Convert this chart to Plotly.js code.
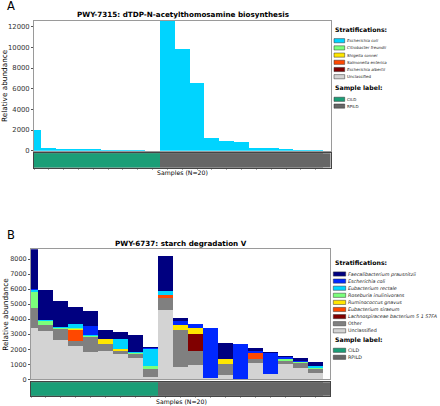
<!DOCTYPE html>
<html><head><meta charset="utf-8">
<script src="https://cdn.plot.ly/plotly-3.0.1.min.js"></script>
<style>html,body{margin:0;padding:0;background:#fff}#chart{width:440px;height:406px}</style>
</head><body><div id="chart"></div>
<script>
// ---------------- DATA ----------------
const samples = [0,1,2,3,4,5,6,7,8,9,10,11,12,13,14,15,16,17,18,19];
const sampleGroupA = ['CILD','CILD','CILD','CILD','CILD','CILD','CILD','CILD','CILD','RPILD','RPILD','RPILD','RPILD','RPILD','RPILD','RPILD','RPILD','RPILD','RPILD','RPILD'];
const sampleGroupB = ['CILD','CILD','CILD','CILD','CILD','CILD','CILD','CILD','CILD','RPILD','RPILD','RPILD','RPILD','RPILD','RPILD','RPILD','RPILD','RPILD','RPILD','RPILD'];
const groupNames = ['CILD','RPILD'];

// Panel A: PWY-7315 (legend order, top of stack first)
const speciesA = ['Escherichia coli','Citrobacter freundii','Shigella sonnei','Salmonella enterica','Escherichia albertii','Unclassified'];
const ecoliA = [2050,250,200,160,150,70,50,25,10,12550,9880,6520,1250,950,850,260,250,160,90,20];
const citrobacterA = [0,0,0,0,0,0,0,0,0,0,0,0,0,0,0,0,0,0,0,0];
const shigellaA = [0,0,0,0,0,0,0,0,0,0,0,0,0,0,0,0,0,0,0,0];
const salmonellaA = [0,0,0,0,0,0,0,0,0,0,0,0,0,0,0,0,0,0,0,0];
const albertiiA = [0,0,0,0,0,0,0,0,0,0,0,0,0,0,0,0,0,0,0,0];
const unclassifiedA = [0,0,0,0,0,0,0,0,0,0,0,0,0,0,0,0,0,0,0,0];
const yTicksA = [0,2000,4000,6000,8000,10000,12000];

// Panel B: PWY-6737 (legend order, top of stack first)
const speciesB = ['Faecalibacterium prausnitzii','Escherichia coli','Eubacterium rectale','Roseburia inulinivorans','Ruminococcus gnavus','Eubacterium siraeum','Lachnospiraceae bacterium 5 1 57FA','Other','Unclassified'];
const faecaliB   = [2625,1965,1770,1135,1000,605,490,1150,70,2360,245,0,0,1055,0,180,65,90,140,295];
const ecoliB     = [60,0,0,0,630,0,0,0,80,0,210,245,3350,0,2300,110,1400,145,75,0];
const rectaleB   = [180,70,60,250,50,0,645,25,1100,245,0,0,0,0,0,0,0,0,0,85];
const roseburiaB = [1030,300,30,80,60,0,0,65,210,0,45,0,0,0,0,0,0,100,120,120];
const ruminoB    = [0,0,0,45,0,290,140,0,0,0,320,400,0,320,0,0,0,0,0,0];
const siraeumB   = [0,0,0,725,0,0,0,0,0,210,0,0,0,0,0,400,0,0,0,0];
const lachnoB    = [0,0,0,0,0,0,0,0,0,0,0,1130,0,0,0,0,0,0,0,0];
const otherB     = [1310,360,750,360,1020,490,210,260,510,780,2425,945,0,730,0,310,0,200,335,265];
const unclassB   = [3440,3230,2620,2190,1790,1890,1680,1440,170,4605,850,945,90,280,30,1055,320,1020,720,390];
const yTicksB = [0,1000,2000,3000,4000,5000,6000,7000,8000];

// ---------------- STYLE ----------------
const W = 440, H = 406;
const X = p => p / W, Y = p => 1 - p / H;
const colA = {'Escherichia coli':'#00d4ff','Citrobacter freundii':'#7bff7b','Shigella sonnei':'#ffe600','Salmonella enterica':'#ff4800','Escherichia albertii':'#800000','Unclassified':'#d3d3d3'};
const colB = {'Faecalibacterium prausnitzii':'#000080','Escherichia coli':'#0028ff','Eubacterium rectale':'#00d4ff','Roseburia inulinivorans':'#7bff7b','Ruminococcus gnavus':'#ffe600','Eubacterium siraeum':'#ff4800','Lachnospiraceae bacterium 5 1 57FA':'#800000','Other':'#808080','Unclassified':'#d3d3d3'};
const colG = {'CILD':'#1b9e77','RPILD':'#666666'};
const FONT = 'DejaVu Sans, Verdana, sans-serif';

const seriesA = {'Unclassified':unclassifiedA,'Escherichia albertii':albertiiA,'Salmonella enterica':salmonellaA,'Shigella sonnei':shigellaA,'Citrobacter freundii':citrobacterA,'Escherichia coli':ecoliA};
const seriesB = {'Unclassified':unclassB,'Other':otherB,'Lachnospiraceae bacterium 5 1 57FA':lachnoB,'Eubacterium siraeum':siraeumB,'Ruminococcus gnavus':ruminoB,'Roseburia inulinivorans':roseburiaB,'Eubacterium rectale':rectaleB,'Escherichia coli':ecoliB,'Faecalibacterium prausnitzii':faecaliB};

const traces = [];
for (const [name, vals] of Object.entries(seriesA)) {
  traces.push({type:'bar', x:samples, y:vals, width:1, name, xaxis:'x', yaxis:'y', marker:{color:colA[name], line:{width:0}}, showlegend:false, hoverinfo:'skip'});
}
for (const [name, vals] of Object.entries(seriesB)) {
  traces.push({type:'bar', x:samples, y:vals, width:1, name, xaxis:'x3', yaxis:'y3', marker:{color:colB[name], line:{width:0}}, showlegend:false, hoverinfo:'skip'});
}
traces.push({type:'bar', x:samples, y:samples.map(()=>1), width:1, xaxis:'x2', yaxis:'y2', marker:{color:sampleGroupA.map(g=>colG[g]), line:{width:0}}, showlegend:false, hoverinfo:'skip'});
traces.push({type:'bar', x:samples, y:samples.map(()=>1), width:1, xaxis:'x4', yaxis:'y4', marker:{color:sampleGroupB.map(g=>colG[g]), line:{width:0}}, showlegend:false, hoverinfo:'skip'});

const frame = {showline:true, mirror:true, linecolor:'#9a9a9a', linewidth:1, showgrid:false, zeroline:false};
const stripFrame = {showline:true, mirror:true, linecolor:'#444', linewidth:1, showgrid:false, zeroline:false};
const domA = [X(34), X(330.5)], domB = [X(31), X(330)];

const layout = {
  width:W, height:H, margin:{l:0,r:0,t:0,b:0}, paper_bgcolor:'#fff', plot_bgcolor:'#fff',
  barmode:'stack', bargap:0, showlegend:false, font:{family:FONT, color:'#222'},
  xaxis:Object.assign({domain:domA, anchor:'y', range:[0,20], showticklabels:false, ticks:''}, frame),
  yaxis:Object.assign({domain:[Y(150.7), Y(21)], anchor:'x', range:[0,12550], tickvals:yTicksA, tickformat:'d', ticks:'outside', ticklen:2, tickcolor:'#555', tickfont:{size:6.8, color:'#333'}}, frame),
  xaxis2:Object.assign({domain:domA, anchor:'y2', range:[0,20], showticklabels:false, tickvals:samples, ticks:'outside', ticklen:1.5, tickcolor:'#aaa'}, stripFrame),
  yaxis2:Object.assign({domain:[Y(167.5), Y(153.3)], anchor:'x2', range:[0,1], showticklabels:false, ticks:''}, stripFrame),
  xaxis3:Object.assign({domain:domB, anchor:'y3', range:[0,20], showticklabels:false, ticks:''}, frame),
  yaxis3:Object.assign({domain:[Y(379.3), Y(249.3)], anchor:'x3', range:[0,8645], tickvals:yTicksB, tickformat:'d', ticks:'outside', ticklen:2, tickcolor:'#555', tickfont:{size:6.5, color:'#333'}}, frame),
  xaxis4:Object.assign({domain:domB, anchor:'y4', range:[0,20], showticklabels:false, tickvals:samples, ticks:'outside', ticklen:1.5, tickcolor:'#aaa'}, stripFrame),
  yaxis4:Object.assign({domain:[Y(395.7), Y(382.3)], anchor:'x4', range:[0,1], showticklabels:false, ticks:''}, stripFrame),
  annotations:[],
  // strip background continues the last sample group's colour to the axis end
  shapes:[
    {type:'rect', xref:'x2 domain', yref:'y2 domain', x0:0, x1:1, y0:0, y1:1, fillcolor:colG[sampleGroupA[sampleGroupA.length-1]], line:{width:0}, layer:'below'},
    {type:'rect', xref:'x4 domain', yref:'y4 domain', x0:0, x1:1, y0:0, y1:1, fillcolor:colG[sampleGroupB[sampleGroupB.length-1]], line:{width:0}, layer:'below'}
  ]
};

function txt(x, y, text, size, opts) {
  layout.annotations.push(Object.assign({xref:'paper', yref:'paper', x:X(x), y:Y(y), text, showarrow:false, xanchor:'center', yanchor:'middle', font:{family:FONT, size, color:'#000'}, borderpad:0}, opts||{}));
}
// panel letters and titles
txt(11, 6, 'A', 11.5);
txt(10.5, 234.7, 'B', 11.5);
txt(182.5, 14.7, '<b>PWY-7315: dTDP-N-acetylthomosamine biosynthesis</b>', 7.2);
txt(181, 243.3, '<b>PWY-6737: starch degradation V</b>', 7.2);
txt(5, 86, 'Relative abundance', 7.3, {textangle:-90});
txt(4.7, 314, 'Relative abundance', 7.3, {textangle:-90});
txt(182.5, 172.7, 'Samples (N=20)', 6.2);
txt(181, 401.5, 'Samples (N=20)', 6.2);

function legendBlock(x0, sw0, sw1, tx, titleY, items, itemY0, dy, fsize, colors, sampleTitleY, groupY0, groupDy) {
  txt(x0, titleY, '<b>Stratifications:</b>', 6.2, {xanchor:'left'});
  items.forEach((name, i) => {
    const y = itemY0 + i * dy;
    layout.shapes.push({type:'rect', xref:'paper', yref:'paper', x0:X(sw0), x1:X(sw1), y0:Y(y+2.1), y1:Y(y-2.1), fillcolor:colors[name], line:{color:'#333', width:0.5}});
    const plain = (name === 'Unclassified' || name === 'Other');
    txt(tx, y, plain ? name : '<i>' + name + '</i>', fsize, {xanchor:'left', font:{family:FONT, size:fsize, color:'#222'}});
  });
  txt(x0, sampleTitleY, '<b>Sample label:</b>', 6.2, {xanchor:'left'});
  groupNames.forEach((g, i) => {
    const y = groupY0 + i * groupDy;
    layout.shapes.push({type:'rect', xref:'paper', yref:'paper', x0:X(sw0), x1:X(sw1), y0:Y(y+2.1), y1:Y(y-2.1), fillcolor:colG[g], line:{color:'#333', width:0.5}});
    txt(tx, y, g, fsize, {xanchor:'left', font:{family:FONT, size:fsize, color:'#222'}});
  });
}
legendBlock(334, 334, 344.7, 346.3, 29.5, speciesA, 40.7, 7.2, 4.0, colA, 87.7, 99.3, 6.8);
legendBlock(334.3, 333.3, 345.7, 346.7, 262.5, speciesB, 274, 7.1, 4.8, colB, 339.8, 350.3, 7.0);

Plotly.newPlot('chart', traces, layout, {staticPlot:true, displayModeBar:false});
</script>
</body></html>
